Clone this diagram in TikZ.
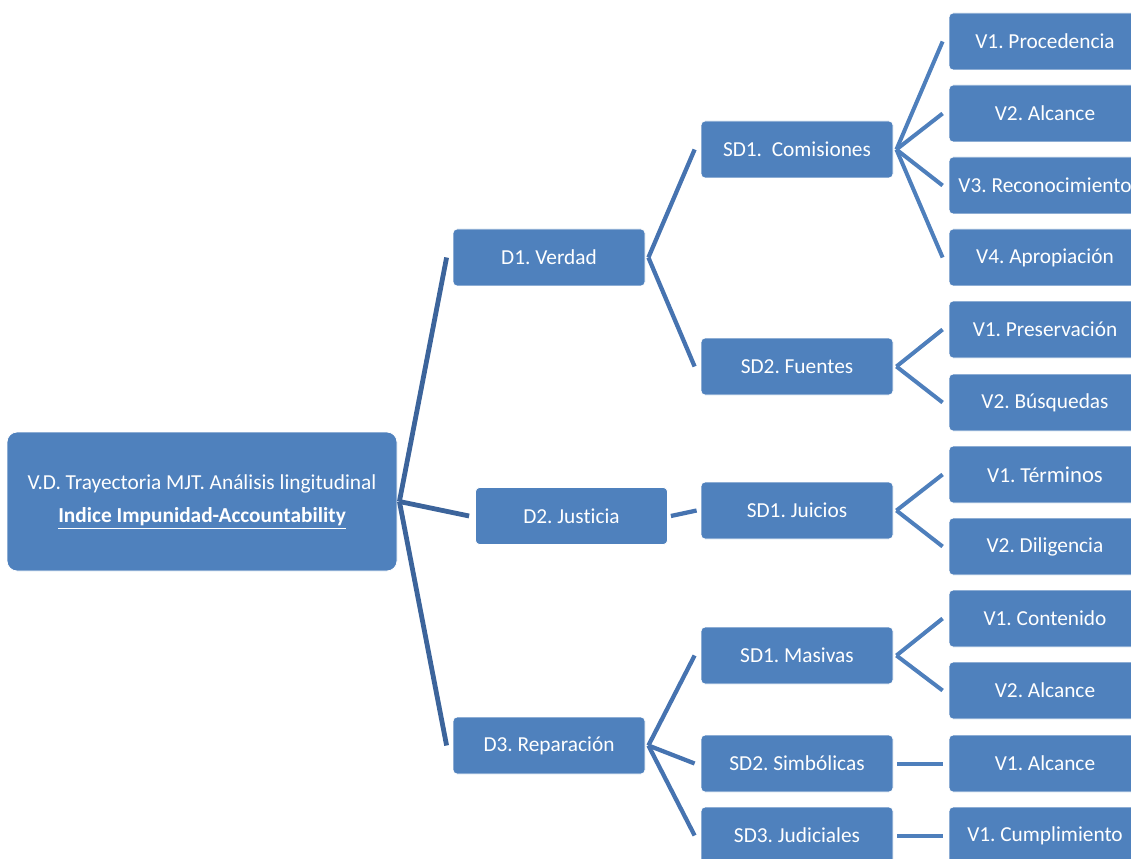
\documentclass[tikz,border=0pt]{standalone}
\usepackage{fontspec}
\setmainfont{Carlito}[Ligatures=NoCommon]
\usetikzlibrary{calc}
\frenchspacing

\definecolor{boxblue}{RGB}{79,129,189}
\definecolor{linkA}{RGB}{60,100,155}
\definecolor{linkB}{RGB}{70,115,176}
\definecolor{linkC}{RGB}{78,127,188}

\tikzset{
  box/.style={fill=boxblue,draw=white,line width=0.6pt,rounded corners=3pt,minimum width=144pt,minimum height=42.75pt,
    text=white,font=\fontsize{16}{19}\selectfont,inner sep=0pt},
  rootbox/.style={box,rounded corners=7.5pt,minimum width=292.5pt,minimum height=104.25pt,align=center,
    font=\fontsize{16}{25}\selectfont},
  linkA/.style={draw=linkA,line width=3.6pt},
  linkB/.style={draw=linkB,line width=3.2pt},
  linkC/.style={draw=linkC,line width=3pt},
}

\begin{document}
\begin{tikzpicture}[x=0.75pt,y=-0.75pt]
  \useasboundingbox (0,0) rectangle (1131,859);
  \clip (0,0) rectangle (1131,859);

  % tree of boxes
  \node[rootbox] (root) at (202,501.5) {V.D. Trayectoria MJT. Análisis lingitudinal\\\underline{\textbf{Indice Impunidad-Accountability}}};

  \node[box] (verdad) at (549,257.5) {D1. Verdad};
  \node[box] (justicia) at (571.5,516) {D2. Justicia};
  \node[box] (reparacion) at (549,745.5) {D3. Reparación};

  \node[box] (comisiones) at (797,149.5) {SD1.\ \ Comisiones};
  \node[box] (fuentes) at (797,366.5) {SD2. Fuentes};
  \node[box] (juicios) at (797,510.5) {SD1. Juicios};
  \node[box] (masivas) at (797,655.5) {SD1. Masivas};
  \node[box] (simbolicas) at (797,763.5) {SD2. Simbólicas};
  \node[box] (judiciales) at (797,835.5) {SD3. Judiciales};

  \node[box] (procedencia) at (1045,41.5) {V1. Procedencia};
  \node[box] (alcanceA) at (1045,113.5) {V2. Alcance};
  \node[box] (reconocimiento) at (1045,185.5) {V3. Reconocimiento};
  \node[box] (apropiacion) at (1045,257.5) {V4. Apropiación};
  \node[box] (preservacion) at (1045,329.5) {V1. Preservación};
  \node[box] (busquedas) at (1045,402.5) {V2. Búsquedas};
  \node[box] (terminos) at (1045,474.5) {V1. Tér{\fontsize{17}{19}\selectfont minos}};
  \node[box] (diligencia) at (1045,546.5) {V2. Diligencia};
  \node[box] (contenido) at (1045,618.5) {V1. Contenido};
  \node[box] (alcanceB) at (1045,690.5) {V2. Alcance};
  \node[box] (alcanceC) at (1045,763.5) {V1. Alcance};
  \node[box] (cumplimiento) at (1045,835.5) {V1. Cumplimiento};

  % connectors
  \coordinate (root-o) at ($ (root.east) + (2,0) $);
  \draw[linkA] (root-o) -- ($ (verdad.west) + (-6,0) $);
  \draw[linkA] (root-o) -- ($ (justicia.west) + (-6,0) $);
  \draw[linkA] (root-o) -- ($ (reparacion.west) + (-6,0) $);

  \coordinate (verdad-o) at ($ (verdad.east) + (3,0) $);
  \draw[linkB] (verdad-o) -- ($ (comisiones.west) + (-6,0) $);
  \draw[linkB] (verdad-o) -- ($ (fuentes.west) + (-6,0) $);
  \draw[linkB] ($ (justicia.east) + (3,0) $) -- ($ (juicios.west) + (-4,0) $);
  \coordinate (reparacion-o) at ($ (reparacion.east) + (3,0) $);
  \draw[linkB] (reparacion-o) -- ($ (masivas.west) + (-6,0) $);
  \draw[linkB] (reparacion-o) -- ($ (simbolicas.west) + (-6,0) $);
  \draw[linkB] (reparacion-o) -- ($ (judiciales.west) + (-6,0) $);

  \coordinate (comisiones-o) at ($ (comisiones.east) + (3,0) $);
  \draw[linkC] (comisiones-o) -- ($ (procedencia.west) + (-6,0) $);
  \draw[linkC] (comisiones-o) -- ($ (alcanceA.west) + (-6,0) $);
  \draw[linkC] (comisiones-o) -- ($ (reconocimiento.west) + (-6,0) $);
  \draw[linkC] (comisiones-o) -- ($ (apropiacion.west) + (-6,0) $);
  \coordinate (fuentes-o) at ($ (fuentes.east) + (3,0) $);
  \draw[linkC] (fuentes-o) -- ($ (preservacion.west) + (-6,0) $);
  \draw[linkC] (fuentes-o) -- ($ (busquedas.west) + (-6,0) $);
  \coordinate (juicios-o) at ($ (juicios.east) + (3,0) $);
  \draw[linkC] (juicios-o) -- ($ (terminos.west) + (-6,0) $);
  \draw[linkC] (juicios-o) -- ($ (diligencia.west) + (-6,0) $);
  \coordinate (masivas-o) at ($ (masivas.east) + (3,0) $);
  \draw[linkC] (masivas-o) -- ($ (contenido.west) + (-6,0) $);
  \draw[linkC] (masivas-o) -- ($ (alcanceB.west) + (-6,0) $);
  \draw[linkC] ($ (simbolicas.east) + (4,0) $) -- ($ (alcanceC.west) + (-6,0) $);
  \draw[linkC] ($ (judiciales.east) + (4,0) $) -- ($ (cumplimiento.west) + (-6,0) $);
\end{tikzpicture}
\end{document}
